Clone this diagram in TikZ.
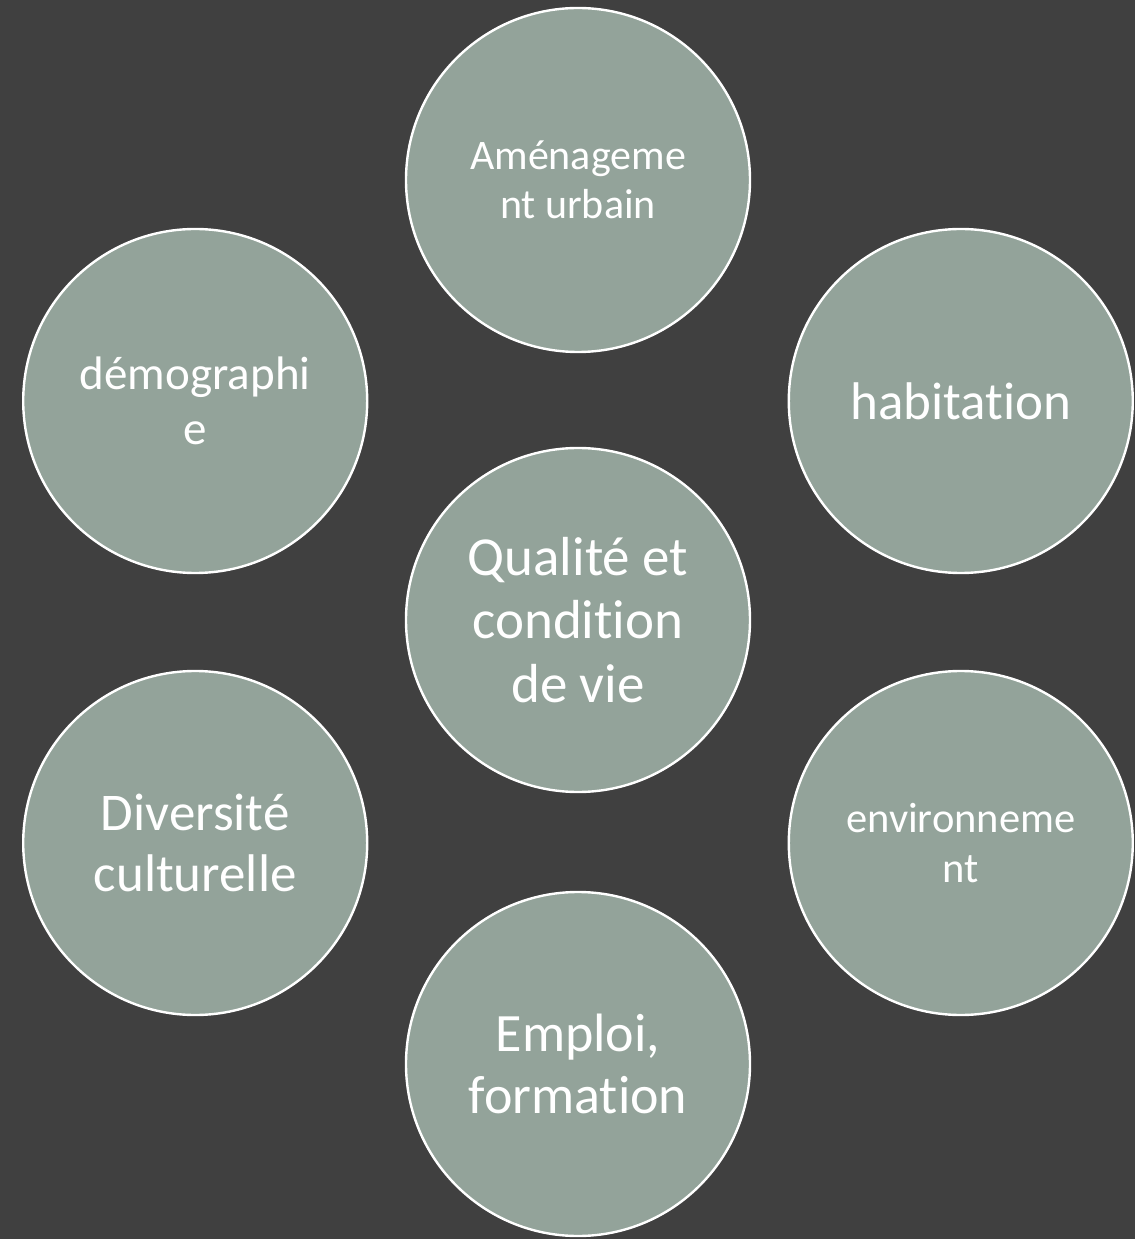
\documentclass[tikz,border=0pt]{standalone}
\usepackage{fontspec}
\setmainfont{Carlito}[RawFeature={-liga;-clig;-calt;-dlig}]
\usepackage{tikz}
\usetikzlibrary{positioning,backgrounds}
\definecolor{slatebg}{HTML}{404040}
\definecolor{sagefill}{HTML}{93A39A}
\definecolor{sageline}{HTML}{7D8E85}
\tikzset{
  bubble/.style={circle,minimum size=344bp,inner sep=0pt,
    draw=white,fill=sagefill,text=white,align=center,line width=2.4bp},
  link/.style={draw=sageline,line width=2.6bp},
}
\newcommand{\bubsize}[1]{\fontsize{#1bp}{1.16\dimexpr#1bp\relax}\selectfont}

\begin{document}
\begin{tikzpicture}
  \fill[slatebg] (-578bp,-617bp) rectangle (557bp,622bp);
  \node[bubble,font=\bubsize{55}] (hub) at (0,2bp) {Qualité et\\condition\\de vie};
  \node[bubble,font=\bubsize{42}] (urbain) at (90:442bp) {Aménageme\\nt urbain};
  \node[bubble,font=\bubsize{53}] (habitat) at (30:442bp) {habitation};
  \node[bubble,font=\bubsize{42.5}] (envir) at (-30:442bp) {environneme\\nt};
  \node[bubble,font=\bubsize{54}] (emploi) at (-90:442bp) {Emploi,\\formation};
  \node[bubble,font=\bubsize{53}] (culture) at (-150:442bp) {Diversité\\culturelle};
  \node[bubble,font=\bubsize{47}] (demo) at (150:442bp) {démographi\\e};
  \begin{scope}[on background layer]
    \foreach \n in {urbain,habitat,envir,emploi,culture,demo}
      \draw[link] (hub) -- (\n);
  \end{scope}
\end{tikzpicture}
\end{document}
